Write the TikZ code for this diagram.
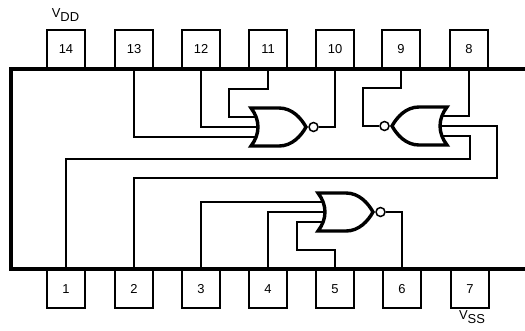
\documentclass[tikz,border=0pt]{standalone}
\usepackage{fontspec}
\setmainfont{Liberation Sans}
\usetikzlibrary{positioning, backgrounds}

\newcommand{\norgate}[4]{% name, tip x, tip y, direction
 \begin{scope}[shift={(#2,#3)}, xscale=#4]
  \draw[gateline] (-55,-19)--(-27,-19) .. controls (-14,-19) and (-5,-9) .. (0,0)
    .. controls (-5,9) and (-14,19) .. (-27,19)--(-55,19)
    .. controls (-45.7,7) and (-45.7,-7) .. cycle;
  \coordinate (#1ina) at (-51,-10);
  \coordinate (#1inb) at (-48,0);
  \coordinate (#1inc) at (-51,10);
  \node[bubble] (#1out) at (7.5,0) {};
 \end{scope}}

\begin{document}
\begin{tikzpicture}[x=1bp, y=-1bp,
  pin/.style={draw, line width=1.8bp, minimum width=38bp, minimum height=38bp, inner sep=0pt, font=\fontsize{13}{13}\selectfont},
  pinlabel/.style={inner sep=0pt, font=\fontsize{13}{13}\selectfont},
  wire/.style={line width=1.5bp, line join=miter},
  gateline/.style={line width=3.4bp, line join=miter, fill=white},
  bubble/.style={circle, draw, line width=1.5bp, minimum size=9bp, inner sep=0pt, fill=white},
  package/.style={line width=3.4bp, line join=miter}]
 \useasboundingbox (0,0) rectangle (525,330);

 %top pins
 \node[pin] (p14) at (66,49) {14};
 \node[pin] (p13) at (134,49) {13};
 \node[pin] (p12) at (201,49) {12};
 \node[pin] (p11) at (268,49) {11};
 \node[pin] (p10) at (335,49) {10};
 \node[pin] (p9) at (401,49) {9};
 \node[pin] (p8) at (469,49) {8};

 %bottom pins
 \node[pin] (p1) at (66,289) {1};
 \node[pin] (p2) at (134,289) {2};
 \node[pin] (p3) at (201,289) {3};
 \node[pin] (p4) at (268,289) {4};
 \node[pin] (p5) at (335,289) {5};
 \node[pin] (p6) at (402,289) {6};
 \node[pin] (p7) at (470,289) {7};

 \node[pinlabel] (vdd) at (65.5,15) {V\raisebox{-0.55ex}{DD}};
 \node[pinlabel] (vss) at (472,317) {V\raisebox{-0.55ex}{SS}};

 \coordinate (elevenbend) at (229,89);
 \coordinate (ninebend) at (363,88);
 \coordinate (onebend) at (470,159);
 \coordinate (twobend) at (497,178);
 \coordinate (fivebend) at (297,250);

 \norgate{ga}{306}{127}{1}
 \norgate{gb}{392}{126}{-1}
 \norgate{gc}{373}{212}{1}

 %wires
 \begin{pgfonlayer}{background}
 \draw[wire] (p13.south) |- (gainc);
 \draw[wire] (p12.south) |- (gainb);
 \draw[wire] (p11.south) |- (elevenbend) |- (gaina);
 \draw[wire] (gaout) -| (p10.south);
 \draw[wire] (p9.south) |- (ninebend) |- (gbout);
 \draw[wire] (p8.south) |- (gbina);
 \draw[wire] (p1.north) |- (onebend) |- (gbinc);
 \draw[wire] (p2.north) |- (twobend) |- (gbinb);
 \draw[wire] (p3.north) |- (gcina);
 \draw[wire] (p4.north) |- (gcinb);
 \draw[wire] (p5.north) |- (fivebend) |- (gcinc);
 \draw[wire] (gcout) -| (p6.north);
 \end{pgfonlayer}

 %package outline
 \draw[package] (525,69)--(11,69)--(11,269)--(525,269);
\end{tikzpicture}
\end{document}
